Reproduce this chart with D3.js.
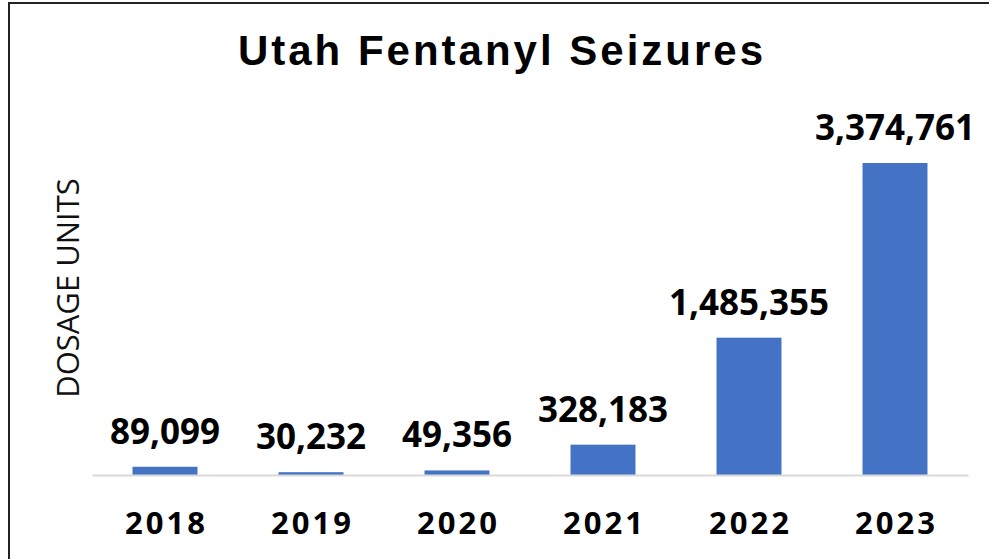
<!DOCTYPE html>
<html>
<head>
<meta charset="utf-8">
<script src="https://cdn.jsdelivr.net/npm/d3@7"></script>
<style>
  body { margin: 0; background: #fff; }
  svg { display: block; }
</style>
</head>
<body>
<div id="chart"></div>
<script>
const width = 989,
      height = 559,
      margin = ({ top: 163, right: 21, bottom: 84, left: 92 });

// data
const years = ["2018", "2019", "2020", "2021", "2022", "2023"];
const seizures = [89099, 30232, 49356, 328183, 1485355, 3374761];

const data = years.map((y, i) => ({ year: y, value: seizures[i] }));

const svg = d3.select("#chart")
  .append("svg")
  .attr("width", width)
  .attr("height", height)
  .attr("viewBox", [0, 0, width, height]);

// frame (only top and left edges show in the crop)
svg.append("rect")
  .attr("x", 9)
  .attr("y", 3)
  .attr("width", width + 20)
  .attr("height", height + 20)
  .attr("fill", "none")
  .attr("stroke", "#222")
  .attr("stroke-width", 2);

let x = d3.scaleBand()
  .domain(years)
  .range([margin.left, width - margin.right])
  .paddingInner(0.555)
  .paddingOuter(0.2775);

let y = d3.scaleLinear()
  .domain([0, d3.max(seizures)])
  .range([height - margin.bottom, margin.top]);

// title
svg.append("text")
  .attr("x", 502)
  .attr("y", 65)
  .attr("text-anchor", "middle")
  .style("font-family", "'Liberation Sans', Arial, sans-serif")
  .style("font-weight", "bold")
  .style("font-size", "42px")
  .style("letter-spacing", "3px")
  .text("Utah Fentanyl Seizures");

// y axis title
svg.append("text")
  .attr("transform", "translate(79,288) rotate(-90)")
  .attr("text-anchor", "middle")
  .style("font-family", "'Open Sans', sans-serif")
  .style("font-size", "31px")
  .style("fill", "#111")
  .text("DOSAGE UNITS");

// bars
svg.append("g")
  .selectAll("rect")
  .data(data)
  .join("rect")
    .attr("x", d => x(d.year))
    .attr("y", d => y(d.value))
    .attr("width", x.bandwidth())
    .attr("height", d => y(0) - y(d.value))
    .attr("fill", "#4472c4");

// baseline
const xAxis = svg.append("g")
  .attr("transform", `translate(0,${y(0)})`)
  .call(d3.axisBottom(x).tickSize(0).tickPadding(0));

xAxis.select(".domain")
  .attr("stroke", "#d9d9d9")
  .attr("stroke-width", 2);

xAxis.selectAll(".tick text")
  .attr("y", 59)
  .attr("dy", 0)
  .attr("dx", "1.5px")
  .style("font-family", "'Open Sans', sans-serif")
  .style("font-weight", "bold")
  .style("font-size", "31px")
  .style("letter-spacing", "3px")
  .style("fill", "#000");

// value labels
svg.append("g")
  .selectAll("text")
  .data(data)
  .join("text")
    .attr("x", d => x(d.year) + x.bandwidth() / 2)
    .attr("y", d => y(d.value) - 23)
    .attr("text-anchor", "middle")
    .style("font-family", "'Open Sans', sans-serif")
    .style("font-weight", "bold")
    .style("font-size", "35px")
    .style("fill", "#000")
    .text(d => d3.format(",")(d.value));
</script>
</body>
</html>
